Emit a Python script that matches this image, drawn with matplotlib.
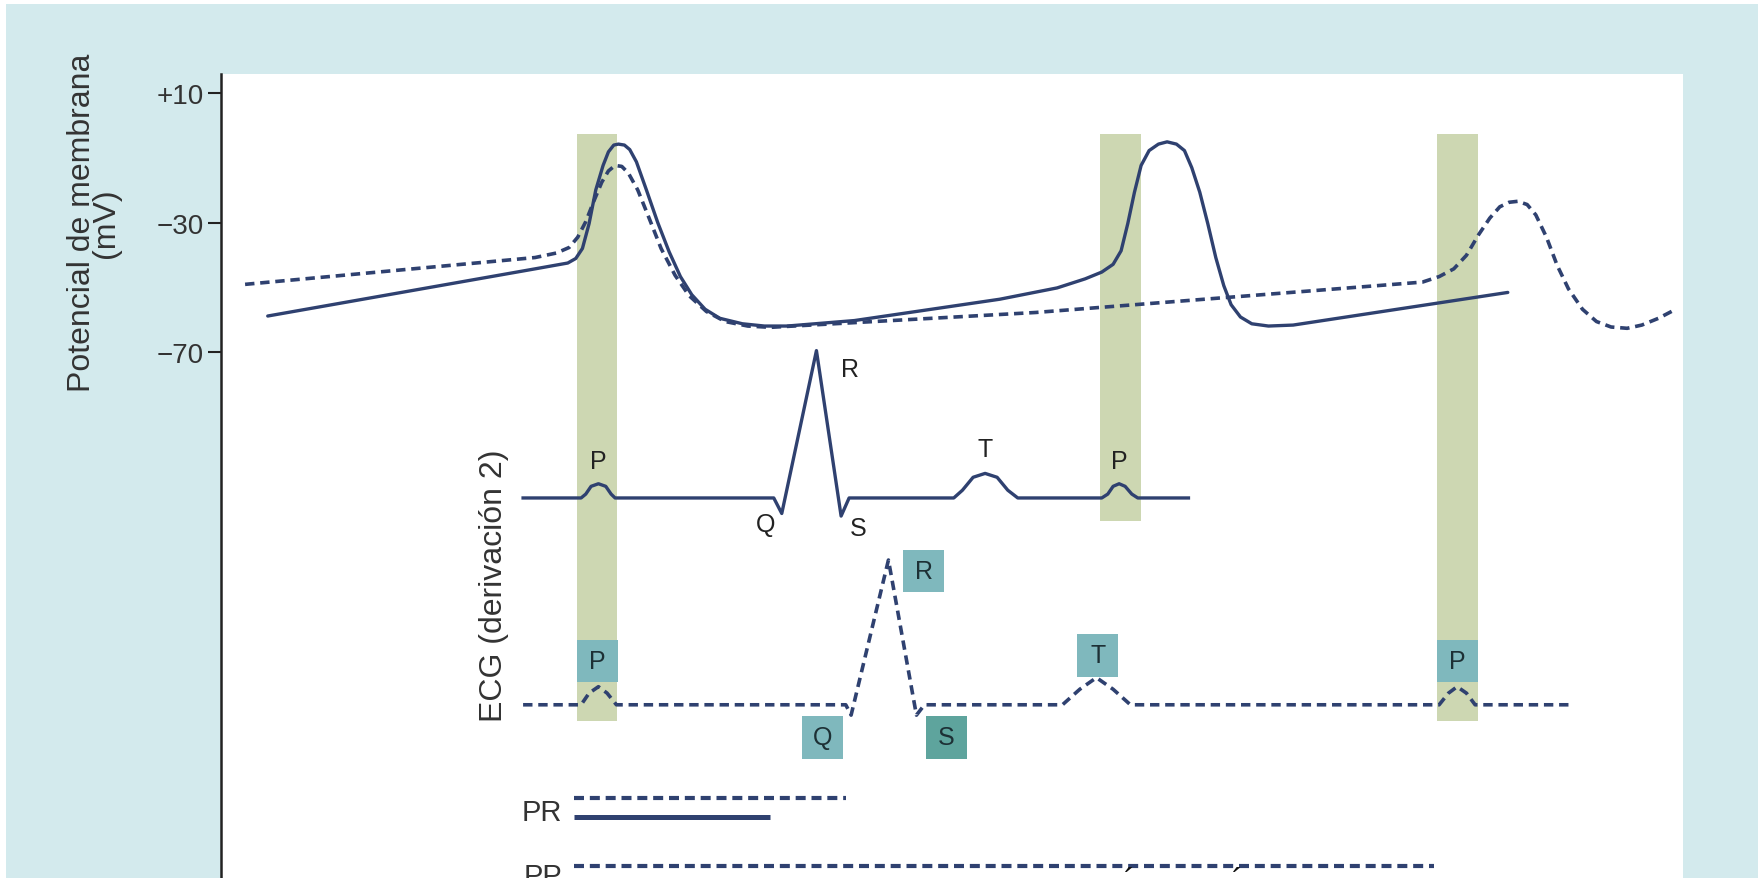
import matplotlib
matplotlib.use('Agg')
import matplotlib.pyplot as plt
from matplotlib.patches import Rectangle

plt.rcParams['font.family'] = ['Liberation Sans', 'DejaVu Sans']

# --- potencial de membrana (t en ms, mV) ---
mem_solid_t = [70, 471, 520, 532, 542, 552, 562, 573, 581, 589, 596, 605, 613, 623, 638, 655, 672,
               689, 706, 726, 748, 782, 815, 849, 950, 1168, 1254, 1296, 1321, 1338, 1350, 1360, 1370,
               1380, 1392, 1406, 1419, 1433, 1445, 1456, 1468, 1480, 1492, 1504, 1515, 1529, 1546,
               1571, 1608, 1930]
mem_solid_mv = [-58.9, -44.3, -42.5, -41.1, -38.0, -30.3, -19.9, -12.3, -8.1, -6.0, -5.7, -6.0, -7.4,
                -11.2, -19.9, -30.0, -39.0, -46.7, -52.3, -56.8, -59.6, -61.3, -62.0, -62.0, -60.3,
                -53.7, -50.2, -47.4, -45.3, -42.9, -38.7, -30.3, -20.6, -12.3, -7.7, -5.7, -5.0, -5.7,
                -7.7, -13.0, -20.6, -30.3, -40.8, -49.5, -55.4, -59.2, -61.3, -62.0, -61.7, -51.6]

mem_dash_t = [36, 471, 503, 522, 535, 547, 559, 571, 581, 591, 601, 611, 625, 642, 660, 681, 702,
              728, 756, 790, 824, 1222, 1802, 1827, 1849, 1868, 1886, 1903, 1918, 1932, 1945, 1959,
              1972, 1988, 2004, 2021, 2042, 2063, 2085, 2109, 2131, 2156, 2182]
mem_dash_mv = [-49.1, -40.8, -39.4, -37.7, -34.5, -29.7, -23.4, -17.5, -14.0, -12.3, -12.6, -14.7,
               -19.9, -28.6, -38.0, -46.3, -52.6, -57.5, -60.6, -62.0, -62.4, -57.8, -48.4, -46.7,
               -44.3, -40.1, -33.8, -28.6, -25.1, -23.7, -23.4, -24.4, -27.6, -34.5, -43.2, -50.5,
               -56.8, -60.6, -62.3, -62.7, -61.7, -59.6, -56.8]

# --- ECG derivacion 2 (amplitud en mV de ECG) ---
ecg_solid_t = [453, 540, 547, 555, 566, 577, 585, 591, 829, 841, 893, 930, 942,
               1099, 1112, 1128, 1146, 1164, 1180, 1195, 1321, 1330, 1338, 1347, 1356, 1366, 1375, 1451]
ecg_solid_mv = [0, 0, 0.03, 0.09, 0.11, 0.09, 0.03, 0, 0, -0.12, 1.14, -0.14, 0,
                0, 0.06, 0.16, 0.19, 0.16, 0.06, 0, 0, 0.03, 0.09, 0.11, 0.09, 0.03, 0, 0]

ecg_dash_t = [453, 540, 552, 566, 579, 593, 937, 945, 1001, 1043, 1055,
              1262, 1288, 1313, 1338, 1364, 1827, 1841, 1854, 1868, 1881, 2021]
ecg_dash_mv = [0, 0, 0.09, 0.14, 0.09, 0, 0, -0.08, 1.12, -0.08, 0,
               0, 0.12, 0.21, 0.12, 0, 0, 0.09, 0.14, 0.09, 0, 0]

# ventanas de la onda P (bandas verdes)
band_start = [534, 1318, 1824]
band_end = [594, 1380, 1886]
band_bottom = [-184.1, -122.2, -184.1]

# intervalos
pr_dash = [529, 937]
pr_solid = [529, 824]
pp_dash = [529, 1819]

# etiquetas ECG
solid_labels = ['P', 'R', 'Q', 'S', 'T', 'P']
solid_label_t = [566, 944, 817, 955, 1146, 1348]
solid_label_mv = [-103.7, -75.2, -123.2, -124.6, -99.9, -103.7]

box_labels = ['P', 'Q', 'R', 'S', 'T', 'P']
box_t0 = [534, 871, 1023, 1057, 1284, 1824]
box_top = [-159.0, -182.7, -131.2, -182.7, -157.3, -159.0]
box_colors = ['#7fb8bd', '#7fb8bd', '#7fb8bd', '#5ea49d', '#7fb8bd', '#7fb8bd']

yticks = [10, -30, -70]
yticklabels = ['+10', '\u221230', '\u221270']

navy = '#2f4170'
green = '#cdd7b2'

fig = plt.figure(figsize=(17.63, 8.79), dpi=100)
fig.patch.set_facecolor('white')
fig.add_artist(Rectangle((6 / 1763, 0), 1752 / 1763, 874 / 879, transform=fig.transFigure,
                         facecolor='#d3eaed', edgecolor='none', zorder=-10))

ax = fig.add_axes([0.1254, 0.0, 0.8293, 0.9147])
ax.set_facecolor('white')
ax.set_xlim(0, 2193)
ax.set_ylim(-232.8, 16.0)
for s in ['top', 'right', 'bottom']:
    ax.spines[s].set_visible(False)
ax.spines['left'].set_linewidth(1.8)
ax.spines['left'].set_color('#222222')
ax.set_xticks([])
ax.set_yticks(yticks)
ax.set_yticklabels(yticklabels, fontsize=20, color='#333333')
ax.tick_params(axis='y', length=9.5, width=1.5, color='#222222', pad=3)

# bandas verdes
for x0, x1, yb in zip(band_start, band_end, band_bottom):
    ax.add_patch(Rectangle((x0, yb), x1 - x0, -2.5 - yb, facecolor=green, edgecolor='none', zorder=1))

# cajas de las ondas
box_w, box_h = 62, 13.2
for lab, x0, yt, c in zip(box_labels, box_t0, box_top, box_colors):
    ax.add_patch(Rectangle((x0, yt - box_h), box_w, box_h, facecolor=c, edgecolor='none', zorder=2))
    ax.text(x0 + box_w / 2, yt - box_h / 2, lab, fontsize=18, color='#1d3035',
            ha='center', va='center', zorder=3)

dash = (2.6, 1.6)
ax.plot(mem_solid_t, mem_solid_mv, color=navy, lw=2.4, solid_joinstyle='round', solid_capstyle='round', zorder=4)
ax.plot(mem_dash_t, mem_dash_mv, color=navy, lw=2.6, dashes=dash, zorder=4)

# ECG: linea base y ganancia en el grafico
solid_base, dash_base, gain = -115.2, -179.2, 40
ax.plot(ecg_solid_t, [solid_base + gain * v for v in ecg_solid_mv], color=navy, lw=2.4,
        solid_joinstyle='round', zorder=4)
ax.plot(ecg_dash_t, [dash_base + gain * v for v in ecg_dash_mv], color=navy, lw=2.6, dashes=dash, zorder=4)

for lab, x, y in zip(solid_labels, solid_label_t, solid_label_mv):
    ax.text(x, y, lab, fontsize=18, color='#222222', ha='center', va='center', zorder=5)

# intervalos PR / PP
ax.plot(pr_dash, [-208.1, -208.1], color=navy, lw=3.0, dashes=(2.4, 1.4))
ax.plot(pr_solid, [-214.0, -214.0], color=navy, lw=3.6, solid_capstyle='butt')
ax.plot(pp_dash, [-229.0, -229.0], color=navy, lw=3.0, dashes=(2.4, 1.4))
ax.text(512, -215.0, 'PR', fontsize=21, color='#333333', ha='right', va='baseline')
ax.text(512, -234.6, 'PP', fontsize=21, color='#333333', ha='right', va='baseline')
ax.text(1363, -229.5, '\u00b4', fontsize=24, color='#111111', ha='center', va='top')
ax.text(1524, -229.5, '\u00b4', fontsize=24, color='#111111', ha='center', va='top')

# titulos de los ejes
fig.text(94 / 1763, 1 - 223 / 879, 'Potencial de membrana\n(mV)', rotation=90, fontsize=23,
         color='#333333', ha='center', va='center', multialignment='center', linespacing=0.72)
ax.text(409, -142.0, 'ECG (derivaci\u00f3n 2)', rotation=90, fontsize=23, color='#333333',
        ha='center', va='center')

fig.savefig('out.png', dpi=100)
